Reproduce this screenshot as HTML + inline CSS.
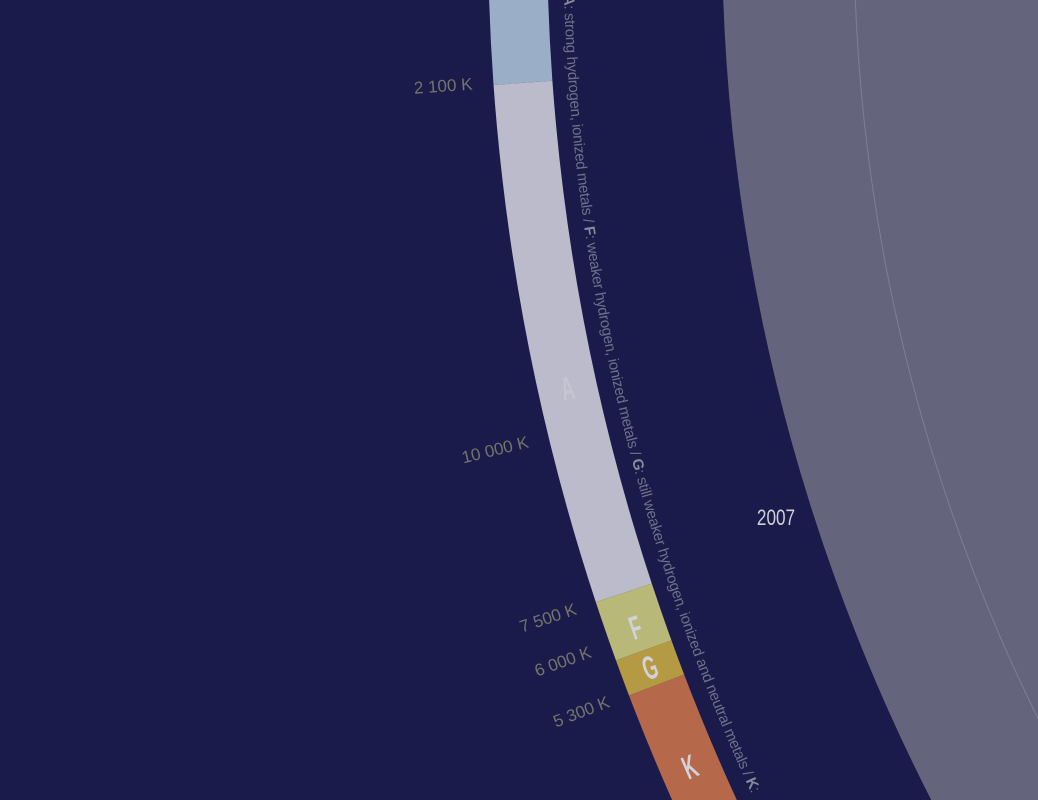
<!DOCTYPE html>
<html><head><meta charset="utf-8"><style>
html,body{margin:0;padding:0;background:#1b1b4b;overflow:hidden;width:1038px;height:800px}
svg{display:block}
</style></head><body>
<svg id="chart" width="1038" height="800" viewBox="0 0 1038 800" xmlns="http://www.w3.org/2000/svg">
<rect x="0" y="0" width="1038" height="800" fill="#1b1b4b"/>
<g id="bands"></g>
<g id="labels"></g>
<path id="textArc" d="" fill="none"/>
<text font-family="'Liberation Sans',sans-serif" font-size="15" fill="#70708a"><textPath href="#textArc" startOffset="64" textLength="826" lengthAdjust="spacing"><tspan font-weight="bold" fill="#8a8a9a">A</tspan>: strong hydrogen, ionized metals / <tspan font-weight="bold" fill="#8a8a9a">F</tspan>: weaker hydrogen, ionized metals / <tspan font-weight="bold" fill="#8a8a9a">G</tspan>: still weaker hydrogen, ionized and neutral metals / <tspan font-weight="bold" fill="#8a8a9a">K</tspan>:</textPath></text>
<text x="0" y="0" text-anchor="middle" font-family="'Liberation Sans',sans-serif" font-size="22" fill="#cfcfdb" transform="translate(776,525) scale(0.78,1)">2007</text>
</svg>
<script>
const CX = 2631, CY = -69;
const classNames = ['B','A','F','G','K'];
const classStart = [-3, 4.12, 18.25, 19.9, 20.9];
const classEnd = [4.12, 18.25, 19.9, 20.9, 32];
const classColors = ['#9aaec8','#bbbbcc','#b8b878','#b59a44','#b5684a'];
const classLetterAngle = [null, 12.5, 19.25, 20.4, 23.3];
const tempLabels = ['2 100 K','10 000 K','7 500 K','6 000 K','5 300 K'];
const tempAngles = [4.2, 13.8, 18.4, 19.6, 21.0];

const R_IN = 2143, R_OUT = 2084, R_GRAY = 1909, R_LINE = 1777, R_TEXT = 2068, R_LAB = 2164;
const NS = 'http://www.w3.org/2000/svg';
function pt(r, deg){ const a = deg*Math.PI/180; return [CX - r*Math.cos(a), CY + r*Math.sin(a)]; }
const svg = document.getElementById('chart');

const g0 = pt(R_GRAY,-5), g1 = pt(R_GRAY,40);
const gray = document.createElementNS(NS,'path');
gray.setAttribute('d', `M${g0[0]},${g0[1]} A${R_GRAY},${R_GRAY} 0 0 0 ${g1[0]},${g1[1]} L2000,1200 L2000,-200 Z`);
gray.setAttribute('fill','#64657d');


svg.insertBefore(gray, document.getElementById('bands'));
const l0 = pt(R_LINE,-5), l1 = pt(R_LINE,40);
const line = document.createElementNS(NS,'path');
line.setAttribute('d', `M${l0[0]},${l0[1]} A${R_LINE},${R_LINE} 0 0 0 ${l1[0]},${l1[1]}`);
line.setAttribute('fill','none'); line.setAttribute('stroke','#7e7f96'); line.setAttribute('stroke-width','1');


svg.insertBefore(line, document.getElementById('bands'));

const bands = document.getElementById('bands');
classNames.forEach((c,i)=>{
  const a0 = classStart[i], a1 = classEnd[i];
  const p1 = pt(R_IN,a0), p2 = pt(R_IN,a1), p3 = pt(R_OUT,a1), p4 = pt(R_OUT,a0);
  const p = document.createElementNS(NS,'path');
  p.setAttribute('d', `M${p1[0]},${p1[1]} A${R_IN},${R_IN} 0 0 0 ${p2[0]},${p2[1]} L${p3[0]},${p3[1]} A${R_OUT},${R_OUT} 0 0 1 ${p4[0]},${p4[1]} Z`);
  p.setAttribute('fill', classColors[i]);
  
  
  bands.appendChild(p);
  if (classLetterAngle[i] !== null) {
    const q = pt((R_IN+R_OUT)/2, classLetterAngle[i]);
    const t = document.createElementNS(NS,'text');
    t.setAttribute('x', 0); t.setAttribute('y', 0);
    t.setAttribute('text-anchor','middle'); t.setAttribute('dominant-baseline','central');
    t.setAttribute('font-family',"'Liberation Sans',sans-serif");
    t.setAttribute('font-size', '30');
    t.setAttribute('font-weight', 'bold');
    t.setAttribute('fill', i===1 ? '#c6c6d2' : '#d2d2da');
    t.setAttribute('transform', `translate(${q[0]},${q[1]}) rotate(${-classLetterAngle[i]}) scale(0.6,1.1)`);
    t.textContent = c;
    
    
    bands.appendChild(t);
  }
});

const labels = document.getElementById('labels');
tempLabels.forEach((s,i)=>{
  const q = pt(R_LAB, tempAngles[i]);
  const t = document.createElementNS(NS,'text');
  t.setAttribute('x',0); t.setAttribute('y',0);
  t.setAttribute('text-anchor','end');
  t.setAttribute('font-family',"'Liberation Sans',sans-serif");
  t.setAttribute('font-size','17'); t.setAttribute('fill','#74746c');
  t.setAttribute('transform', `translate(${q[0]},${q[1]}) rotate(${-tempAngles[i]})`);
  t.textContent = s;
  
  
  labels.appendChild(t);
});

const s0 = pt(R_TEXT,0), s1 = pt(R_TEXT,26);
document.getElementById('textArc').setAttribute('d', `M${s0[0]},${s0[1]} A${R_TEXT},${R_TEXT} 0 0 0 ${s1[0]},${s1[1]}`);
</script>
</body></html>
